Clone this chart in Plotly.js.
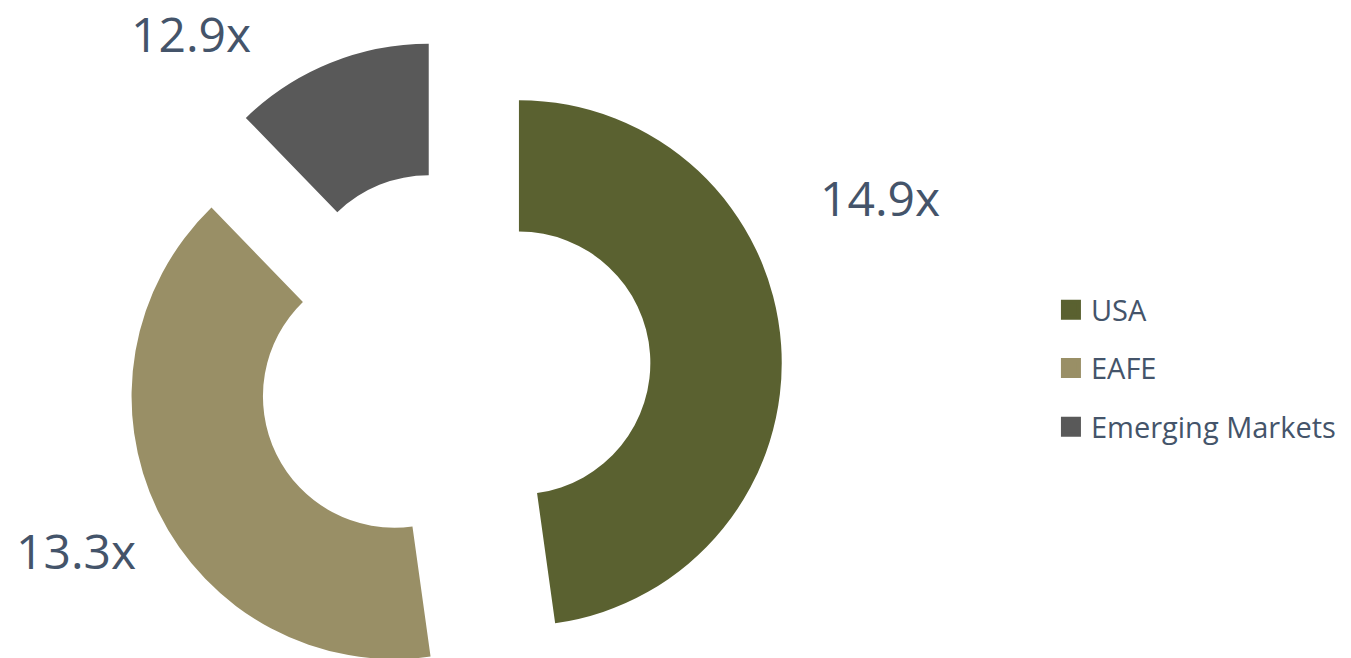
<!DOCTYPE html>
<html>
<head>
<meta charset="utf-8">
<script src="https://cdn.plot.ly/plotly-3.0.1.min.js"></script>
<style>
  html, body { margin: 0; padding: 0; background: #ffffff; overflow: hidden; }
  #wrap { width: 1351px; height: 658px; overflow: hidden; position: relative; }
  #chart { width: 1351px; height: 696px; }
</style>
</head>
<body>
<div id="wrap"><div id="chart"></div></div>
<script>
// ---- data ----
const categories = ["USA", "EAFE", "Emerging Markets"];
const shares = [47.8, 39.95, 12.25];          // slice sizes
const peLabels = ["14.9x", "13.3x", "12.9x"];  // data labels
const colors = ["#5A6130", "#998F66", "#595959"];

const textColor = "#44546A";
const fontFam = "'Open Sans', 'Noto Sans', sans-serif";

// label anchor positions (paper coords) for each slice's data label
const labelPos = [
  {x: 0.6514, y: 0.7595},
  {x: 0.0563, y: 0.2222},
  {x: 0.1414, y: 1.0088}
];

const pie = {
  type: "pie",
  labels: categories,
  values: shares,
  sort: false,
  direction: "clockwise",
  rotation: 0,
  hole: 0.5,
  pull: 0.25,
  marker: {colors: colors, line: {width: 0}},
  textinfo: "none",
  hoverinfo: "label+value",
  showlegend: false,
  domain: {x: [0, 0.6712], y: [0, 1]}
};

const legendNames = ["legend", "legend2", "legend3"];
const legendTraces = categories.map((c, i) => ({
  type: "scatter",
  mode: "markers",
  x: [null], y: [null],
  name: c,
  legend: legendNames[i],
  hoverinfo: "skip",
  marker: {symbol: "square", size: 16, color: colors[i], line: {color: colors[i], width: 4}}
}));

const legendY = [0.5875, 0.4992, 0.4094];
function legendCfg(y) {
  return {
    x: 0.7779, y: y, xanchor: "left", yanchor: "middle",
    bgcolor: "rgba(0,0,0,0)", borderwidth: 0,
    font: {family: fontFam, size: 29, color: textColor}
  };
}

const layout = {
  width: 1351, height: 696,
  margin: {l: 0, r: 0, t: 39, b: 0, pad: 0},
  paper_bgcolor: "#ffffff",
  plot_bgcolor: "#ffffff",
  xaxis: {visible: false},
  yaxis: {visible: false},
  legend: legendCfg(legendY[0]),
  legend2: legendCfg(legendY[1]),
  legend3: legendCfg(legendY[2]),
  annotations: peLabels.map((t, i) => ({
    text: t, xref: "paper", yref: "paper",
    x: labelPos[i].x, y: labelPos[i].y,
    xanchor: "center", yanchor: "middle",
    showarrow: false,
    font: {family: fontFam, size: 48, color: textColor}
  }))
};

Plotly.newPlot("chart", [pie].concat(legendTraces), layout, {displayModeBar: false, staticPlot: true});
</script>
</body>
</html>
